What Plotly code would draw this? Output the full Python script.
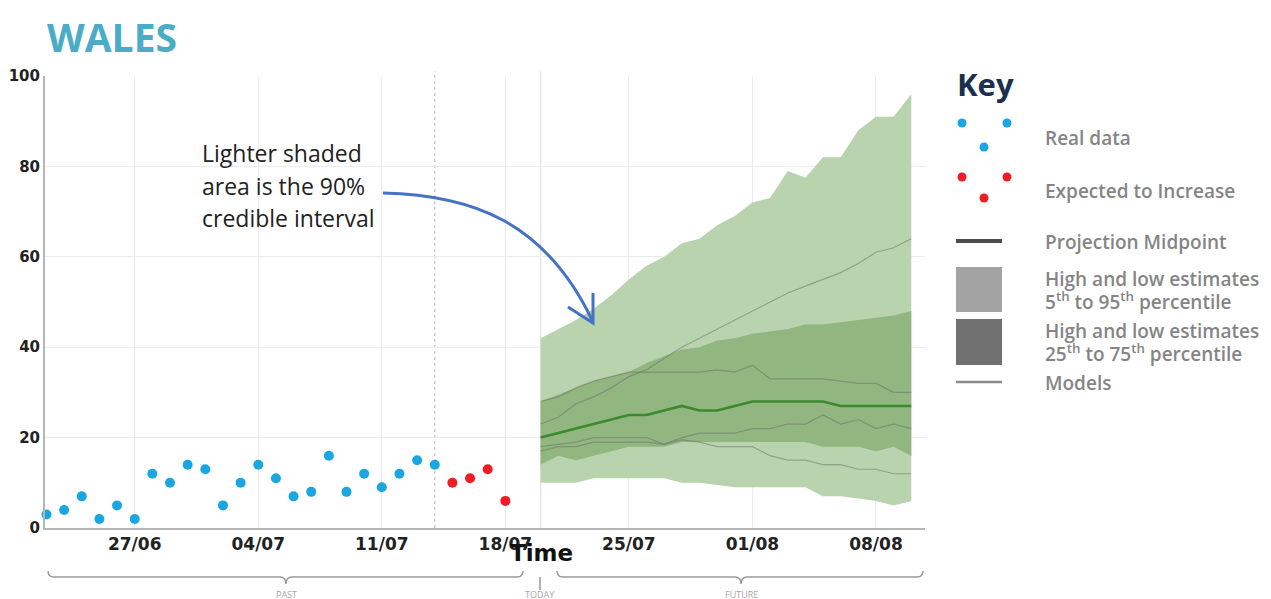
import pandas as pd
import plotly.graph_objects as go

# ---- data -------------------------------------------------------------
real_dates = pd.date_range("2020-06-22", "2020-07-14", freq="D")
real_vals = [3, 4, 7, 2, 5, 2, 12, 10, 14, 13, 5, 10, 14, 11, 7, 8, 16, 8, 12, 9, 12, 15, 14]

incr_dates = pd.date_range("2020-07-15", "2020-07-18", freq="D")
incr_vals = [10, 11, 13, 6]

proj_dates = pd.date_range("2020-07-20", "2020-08-10", freq="D")
p05 = [10, 10, 10, 11, 11, 11, 11, 11, 10, 10, 9.5, 9, 9, 9, 9, 9, 7, 7, 6.5, 6, 5, 6]
p95 = [42, 44, 46, 48.5, 51.5, 55, 58, 60, 63, 64, 67, 69, 72, 73, 79, 77.5, 82, 82, 88, 91, 91, 96]
p25 = [14, 16, 15, 16, 17, 18, 18, 18, 19, 19, 19, 19, 19, 19, 19, 19, 18, 18, 18, 17, 18, 16]
p75 = [28, 29.5, 31, 32.5, 33.5, 34.5, 36.5, 38, 39.5, 40, 41.5, 42, 43, 43.5, 44, 45, 45, 45.5, 46, 46.5, 47, 48]
midpoint = [20, 21, 22, 23, 24, 25, 25, 26, 27, 26, 26, 27, 28, 28, 28, 28, 28, 27, 27, 27, 27, 27]

models = [
    [23, 24.5, 27.5, 29, 31, 33.5, 35, 37.5, 40, 42, 44, 46, 48, 50, 52, 53.5, 55, 56.5, 58.5, 61, 62, 64],
    [28, 29, 31, 32.5, 33.5, 34.5, 34.5, 34.5, 34.5, 34.5, 35, 34.5, 36, 33, 33, 33, 33, 32.5, 32, 32, 30, 30],
    [18, 18.5, 19, 20, 20, 20, 20, 18.5, 20, 21, 21, 21, 22, 22, 23, 23, 25, 23, 24, 22, 23, 22],
    [17, 18, 18, 19, 19, 19, 19, 18.5, 19.5, 19, 18, 18, 18, 16, 15, 15, 14, 14, 13, 13, 12, 12],
]

x_ticks = ["2020-06-27", "2020-07-04", "2020-07-11", "2020-07-18",
           "2020-07-25", "2020-08-01", "2020-08-08"]
y_ticks = [0, 20, 40, 60, 80, 100]

COL_BLUE = "#1aa7e1"
COL_RED = "#ee1c25"
COL_LIGHT = "#b8d3ae"
COL_DARK = "#91b680"
COL_MID = "#3b8a2f"
COL_MODEL = "rgba(105,110,100,0.5)"
COL_ARROW = "#4472c4"
KEY_FONT = "Open Sans"
TICK_FONT = "DejaVu Sans"

# plot area in screen pixels (page body adds an 8px offset)
L, R, T, B = 45, 925, 76, 528
W, H = 1271, 599
OFF = 8


def px(x, y):
    return (x - L) / (R - L), (B - y) / (B - T)


def pstr(x, y):
    a, b = px(x, y)
    return f"{a:.5f},{b:.5f}"


fig = go.Figure()

# bands
fig.add_trace(go.Scatter(x=proj_dates, y=p05, mode="lines", line=dict(width=0),
                         hoverinfo="skip"))
fig.add_trace(go.Scatter(x=proj_dates, y=p95, mode="lines", line=dict(width=0),
                         fill="tonexty", fillcolor=COL_LIGHT, hoverinfo="skip"))
fig.add_trace(go.Scatter(x=proj_dates, y=p25, mode="lines", line=dict(width=0),
                         hoverinfo="skip"))
fig.add_trace(go.Scatter(x=proj_dates, y=p75, mode="lines", line=dict(width=0),
                         fill="tonexty", fillcolor=COL_DARK, hoverinfo="skip"))
for m in models:
    fig.add_trace(go.Scatter(x=proj_dates, y=m, mode="lines",
                             line=dict(color=COL_MODEL, width=1.2)))
fig.add_trace(go.Scatter(x=proj_dates, y=midpoint, mode="lines",
                         line=dict(color=COL_MID, width=2.6)))

# points
fig.add_trace(go.Scatter(x=real_dates, y=real_vals, mode="markers", cliponaxis=False,
                         marker=dict(color=COL_BLUE, size=10)))
fig.add_trace(go.Scatter(x=incr_dates, y=incr_vals, mode="markers", cliponaxis=False,
                         marker=dict(color=COL_RED, size=10)))

shapes = []
# today / last data vertical lines
shapes.append(dict(type="line", xref="x", yref="paper", x0="2020-07-20", x1="2020-07-20",
                   y0=0, y1=1.01, line=dict(color="#e4e4e4", width=1.5), layer="below"))
shapes.append(dict(type="line", xref="x", yref="paper", x0="2020-07-14", x1="2020-07-14",
                   y0=0, y1=1.01, line=dict(color="#c9c9c9", width=1.3, dash="dot"), layer="below"))

# curved arrow
shapes.append(dict(type="path", xref="paper", yref="paper",
                   path=f"M{pstr(383,193)} C{pstr(470,195)} {pstr(545,220)} {pstr(593,322)}",
                   line=dict(color=COL_ARROW, width=3)))
shapes.append(dict(type="path", xref="paper", yref="paper",
                   path=f"M{pstr(568,307)} L{pstr(593,323)} L{pstr(593,293)}",
                   line=dict(color=COL_ARROW, width=3)))


def brace(x0, x1, xc):
    yt, yl, yb, r = 571, 577, 584, 6
    return (f"M{pstr(x0,yt)} Q{pstr(x0,yl)} {pstr(x0+r,yl)} L{pstr(xc-r,yl)} "
            f"Q{pstr(xc,yl)} {pstr(xc,yb)} Q{pstr(xc,yl)} {pstr(xc+r,yl)} "
            f"L{pstr(x1-r,yl)} Q{pstr(x1,yl)} {pstr(x1,yt)}")


for x0, x1, xc in [(48, 523, 286), (557, 923, 741)]:
    shapes.append(dict(type="path", xref="paper", yref="paper", path=brace(x0, x1, xc),
                       line=dict(color="#9a9a9a", width=1.5)))
a, b0 = px(540, 577)
_, b1 = px(540, 590)
shapes.append(dict(type="line", xref="paper", yref="paper", x0=a, x1=a, y0=b0, y1=b1,
                   line=dict(color="#9a9a9a", width=1.5)))

# key markers
for (cx, cy), col in [((962, 123), COL_BLUE), ((1007, 123), COL_BLUE), ((984, 147), COL_BLUE),
                      ((962, 177), COL_RED), ((1007, 177), COL_RED), ((984, 198), COL_RED)]:
    a, b = px(cx, cy)
    shapes.append(dict(type="circle", xref="paper", yref="paper", xsizemode="pixel",
                       ysizemode="pixel", xanchor=a, yanchor=b, x0=-4.5, x1=4.5, y0=-4.5, y1=4.5,
                       fillcolor=col, line=dict(width=0)))
for y, wd, col in [(241, 4, "#4d4d4d"), (382, 2.5, "#8c8c8c")]:
    a0, b = px(956, y)
    a1, _ = px(1002, y)
    shapes.append(dict(type="line", xref="paper", yref="paper", x0=a0, x1=a1, y0=b, y1=b,
                       line=dict(color=col, width=wd)))
for y0, y1, col in [(267, 312, "#a3a3a3"), (319, 365, "#717171")]:
    a0, b0 = px(956, y0)
    a1, b1 = px(1002, y1)
    shapes.append(dict(type="rect", xref="paper", yref="paper", x0=a0, x1=a1, y0=b0, y1=b1,
                       fillcolor=col, line=dict(width=0)))

annotations = []


def text(x, y, s, size, color, family=KEY_FONT, weight="normal", xanchor="left"):
    a, b = px(x, y)
    annotations.append(dict(xref="paper", yref="paper", x=a, y=b, text=s, showarrow=False,
                            xanchor=xanchor, yanchor="middle",
                            font=dict(size=size, color=color, family=family, weight=weight)))


text(45, 36, "WALES", 39, "#4aacc6", weight="bold")
text(200, 153, "Lighter shaded", 23, "#222222")
text(200, 186, "area is the 90%", 23, "#222222")
text(200, 218, "credible interval", 23, "#222222")
text(541, 553, "Time", 23, "#111111", family=TICK_FONT, weight="bold", xanchor="center")
text(286, 594, "PAST", 9, "#a8a8a8", xanchor="center")
text(540, 594, "TODAY", 9, "#a8a8a8", xanchor="center")
text(741, 594, "FUTURE", 9, "#a8a8a8", xanchor="center")

text(955, 84, "Key", 31, "#1b2f4e", weight="bold")
KC = "#858585"
KS = 19
text(1043, 138, "Real data", KS, KC, weight=600)
text(1043, 191, "Expected to Increase", KS, KC, weight=600)
text(1043, 242, "Projection Midpoint", KS, KC, weight=600)
text(1043, 279, "High and low estimates", KS, KC, weight=600)
text(1043, 301, "5<sup>th</sup> to 95<sup>th</sup> percentile", KS, KC, weight=600)
text(1043, 331, "High and low estimates", KS, KC, weight=600)
text(1043, 353, "25<sup>th</sup> to 75<sup>th</sup> percentile", KS, KC, weight=600)
text(1043, 383, "Models", KS, KC, weight=600)

fig.update_layout(
    width=W, height=H,
    margin=dict(l=L - OFF, r=W - (R - OFF), t=T - OFF, b=H - (B - OFF), autoexpand=False),
    plot_bgcolor="white", paper_bgcolor="white",
    showlegend=False,
    shapes=shapes,
    annotations=annotations,
)
fig.update_xaxes(type="date", range=["2020-06-21 22:00", "2020-08-10 18:40"],
                 tickvals=x_ticks, tickformat="%d/%m", automargin=False,
                 tickfont=dict(family=TICK_FONT, size=17, color="#222", weight="bold"),
                 showgrid=True, gridcolor="#ececec", gridwidth=1.3,
                 showline=True, linecolor="#b5b5b5", linewidth=2,
                 zeroline=False, ticks="", ticklabelstandoff=0)
fig.update_yaxes(range=[0, 100], tickvals=y_ticks, automargin=False,
                 tickfont=dict(family=TICK_FONT, size=15, color="#222", weight="bold"),
                 showgrid=True, gridcolor="#ececec", gridwidth=1.3,
                 showline=True, linecolor="#b5b5b5", linewidth=2,
                 zeroline=False, ticks="", ticklabelstandoff=0)

fig.write_html("out.html")
